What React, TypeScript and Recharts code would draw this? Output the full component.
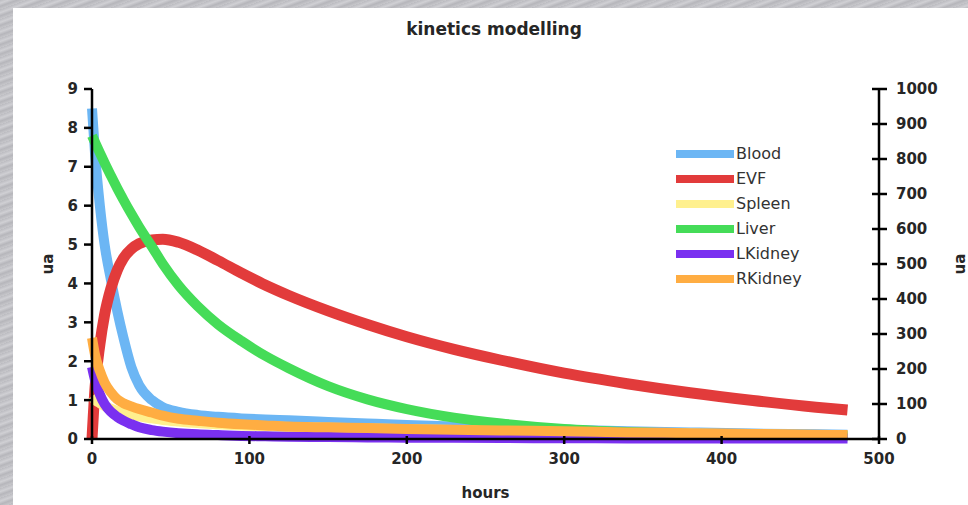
import { LineChart, Line, XAxis, YAxis } from 'recharts'

const hours = [0, 2, 5, 8, 12, 16, 20, 25, 30, 38, 45, 55, 67, 80, 95, 110, 125, 150, 175, 200, 230, 260, 300, 340, 380, 420, 460, 480]
const blood = [8.5, 7.3, 6.0, 5.0, 4.1, 3.3, 2.6, 1.85, 1.38, 1.0, 0.82, 0.7, 0.62, 0.57, 0.53, 0.5, 0.48, 0.44, 0.4, 0.36, 0.32, 0.28, 0.24, 0.2, 0.17, 0.14, 0.12, 0.11]
const evf = [0, 150, 270, 355, 430, 482, 517, 543, 558, 569, 571, 562, 540, 510, 474, 440, 410, 366, 327, 292, 256, 225, 188, 158, 132, 110, 91, 83]
const spleen = [1.1, 1.0, 0.92, 0.85, 0.78, 0.72, 0.67, 0.62, 0.58, 0.53, 0.49, 0.45, 0.41, 0.38, 0.35, 0.33, 0.31, 0.29, 0.27, 0.25, 0.23, 0.21, 0.19, 0.16, 0.14, 0.12, 0.1, 0.09]
const liver = [7.8, 7.62, 7.36, 7.1, 6.77, 6.45, 6.15, 5.79, 5.45, 4.95, 4.5, 3.95, 3.42, 2.95, 2.52, 2.14, 1.82, 1.36, 1.02, 0.77, 0.55, 0.4, 0.26, 0.18, 0.13, 0.1, 0.08, 0.07]
const lKidney = [1.85, 1.5, 1.15, 0.9, 0.7, 0.57, 0.47, 0.38, 0.3, 0.23, 0.19, 0.15, 0.12, 0.1, 0.08, 0.07, 0.06, 0.05, 0.04, 0.035, 0.03, 0.025, 0.02, 0.015, 0.01, 0.01, 0.01, 0.01]
const rKidney = [2.6, 2.15, 1.75, 1.45, 1.2, 1.02, 0.92, 0.84, 0.77, 0.68, 0.6, 0.52, 0.47, 0.42, 0.38, 0.35, 0.32, 0.3, 0.28, 0.26, 0.24, 0.22, 0.2, 0.17, 0.15, 0.13, 0.11, 0.1]

const xTicks = [0, 100, 200, 300, 400, 500]
const leftTicks = [0, 1, 2, 3, 4, 5, 6, 7, 8, 9]
const rightTicks = [0, 100, 200, 300, 400, 500, 600, 700, 800, 900, 1000]

const series = [
  { key: 'Blood', color: '#6cb6f4', axis: 'left', width: 10 },
  { key: 'EVF', color: '#e23b3b', axis: 'right', width: 11 },
  { key: 'Spleen', color: '#fff08e', axis: 'left', width: 10 },
  { key: 'Liver', color: '#45dc58', axis: 'left', width: 10 },
  { key: 'LKidney', color: '#7a30f0', axis: 'left', width: 10 },
  { key: 'RKidney', color: '#ffad42', axis: 'left', width: 10 },
]

const data = hours.map((h, i) => ({
  h,
  Blood: blood[i],
  EVF: evf[i],
  Spleen: spleen[i],
  Liver: liver[i],
  LKidney: lKidney[i],
  RKidney: rKidney[i],
}))

const FONT = '"DejaVu Sans", Verdana, sans-serif'
const INK = '#262626'

function XTick({ x, y, payload }: any) {
  return (
    <g>
      <line x1={x} x2={x} y1={y - 3} y2={y + 5} stroke="#000" strokeWidth={2.5} />
      <text x={x} y={y + 25} textAnchor="middle" fontFamily={FONT} fontWeight="bold" fontSize={15} fill={INK}>
        {payload.value}
      </text>
    </g>
  )
}

function LeftTick({ x, y, payload }: any) {
  return (
    <g>
      <line x1={x - 8} x2={x} y1={y} y2={y} stroke="#000" strokeWidth={2.5} />
      <text x={x - 14} y={y} dy="0.36em" textAnchor="end" fontFamily={FONT} fontWeight="bold" fontSize={15} fill={INK}>
        {payload.value}
      </text>
    </g>
  )
}

function RightTick({ x, y, payload }: any) {
  return (
    <g>
      <line x1={x - 7} x2={x + 8} y1={y} y2={y} stroke="#000" strokeWidth={2.5} />
      <text x={x + 17} y={y} dy="0.36em" textAnchor="start" fontFamily={FONT} fontWeight="bold" fontSize={15} fill={INK}>
        {payload.value}
      </text>
    </g>
  )
}

export default function App() {
  return (
    <div
      style={{
        position: 'fixed', left: 0, top: 0, width: 968, height: 505, overflow: 'hidden',
        background: 'repeating-linear-gradient(160deg, #bcbcc1 0px, #d0d0d4 3px, #b6b6bb 6px, #c7c7cb 9px)',
      }}
    >
      <div style={{ position: 'absolute', left: 13, top: 8, right: 0, bottom: 0, background: '#fff' }} />
      <div
        style={{
          position: 'absolute', left: 0, top: 19, width: 988, textAlign: 'center',
          fontFamily: FONT, fontWeight: 'bold', fontSize: 17, color: INK,
        }}
      >
        kinetics modelling
      </div>
      <div style={{ position: 'absolute', left: 0, top: 0 }}>
        <LineChart width={968} height={505} data={data} margin={{ top: 89, right: 0, bottom: 36, left: 0 }}>
          <XAxis
            dataKey="h" type="number" domain={[0, 500]} ticks={xTicks}
            axisLine={{ stroke: '#000', strokeWidth: 2.5 }} tickLine={false} tickSize={0} tickMargin={0}
            tick={<XTick />} height={30}
            label={{ value: 'hours', position: 'insideBottom', offset: -29, fill: INK, fontFamily: FONT, fontWeight: 'bold', fontSize: 15 }}
          />
          <YAxis
            yAxisId="left" domain={[0, 9]} ticks={leftTicks} width={92}
            axisLine={{ stroke: '#000', strokeWidth: 2.5 }} tickLine={false} tickSize={0} tickMargin={0}
            tick={<LeftTick />}
            label={{ value: 'ua', angle: -90, position: 'center', dx: 2, fill: INK, fontFamily: FONT, fontWeight: 'bold', fontSize: 15 }}
          />
          <YAxis
            yAxisId="right" orientation="right" domain={[0, 1000]} ticks={rightTicks} width={89}
            axisLine={{ stroke: '#000', strokeWidth: 2.5 }} tickLine={false} tickSize={0} tickMargin={0}
            tick={<RightTick />}
            label={{ value: 'ua', angle: -90, position: 'center', dx: 36, fill: INK, fontFamily: FONT, fontWeight: 'bold', fontSize: 15 }}
          />
          {series.map((s) => (
            <Line
              key={s.key} yAxisId={s.axis} dataKey={s.key} type="monotone"
              stroke={s.color} strokeWidth={s.width} dot={false} isAnimationActive={false}
            />
          ))}
        </LineChart>
      </div>
      <div style={{ position: 'absolute', left: 676, top: 141 }}>
        {series.map((s) => (
          <div key={s.key} style={{ display: 'flex', alignItems: 'center', height: 25 }}>
            <div style={{ width: 58, height: 8, background: s.color, marginRight: 2 }} />
            <span style={{ fontFamily: FONT, fontSize: 16, color: '#333' }}>{s.key}</span>
          </div>
        ))}
      </div>
    </div>
  )
}
